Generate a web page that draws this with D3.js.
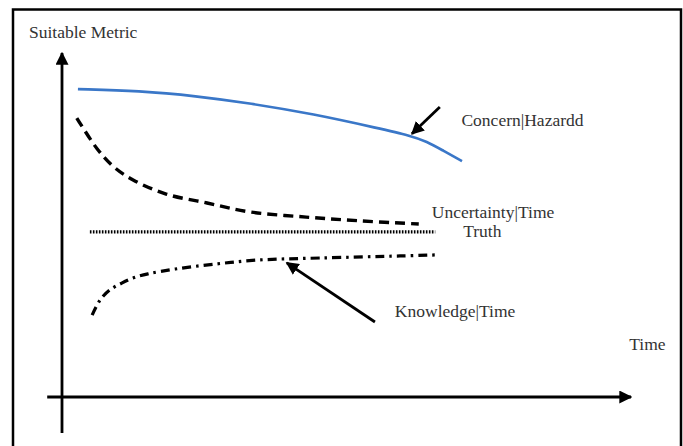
<!DOCTYPE html>
<html>
<head>
<meta charset="utf-8">
<script src="https://cdn.jsdelivr.net/npm/d3@7"></script>
<style>
  html, body { margin: 0; padding: 0; background: #fff; }
  text { font-family: "Liberation Serif", "Times New Roman", serif; fill: #333; }
</style>
</head>
<body>
<div id="chart"></div>
<script>
// ==========================
// Data (time units 0..10, metric units 0..10)
// ==========================
const concernT = [0.28, 1.37, 2.35, 3.30, 4.41, 5.59, 6.12, 6.41, 6.70, 7.03];
const concernM = [8.95, 8.90, 8.75, 8.54, 8.23, 7.80, 7.60, 7.43, 7.16, 6.86];

const uncertaintyT = [0.26, 0.62, 0.91, 1.25, 1.83, 2.55, 3.30, 4.29, 5.24, 6.27];
const uncertaintyM = [8.11, 7.21, 6.69, 6.31, 5.90, 5.64, 5.38, 5.23, 5.12, 5.03];

const truthT = [0.49, 6.56];
const truthM = [4.80, 4.80];

const knowledgeT = [0.53, 0.67, 0.84, 1.05, 1.25, 1.51, 1.99, 2.72, 3.43, 4.53, 5.94, 6.57];
const knowledgeM = [2.38, 2.82, 3.11, 3.31, 3.46, 3.58, 3.72, 3.87, 3.98, 4.04, 4.10, 4.13];

// annotation arrows: [fromT, fromM, toT, toM]
const pointerArrows = [
    [6.64, 8.43, 6.15, 7.65],
    [5.50, 2.18, 3.95, 3.90]
];

// labels: [text, t, m]
const labels = [
    ["Concern|Hazardd", 7.02, 7.89],
    ["Uncertainty|Time", 6.50, 5.20],
    ["Truth", 7.05, 4.65],
    ["Knowledge|Time", 5.85, 2.33],
    ["Time", 9.97, 1.37]
];

// ==========================
// SVG Canvas
// ==========================
const width = 683;
const height = 446;

const svg = d3.select("#chart")
    .append("svg")
    .attr("width", width)
    .attr("height", height);

const x = d3.scaleLinear().domain([0, 10]).range([62, 631]);
const y = d3.scaleLinear().domain([0, 10]).range([397, 53]);

// frame (no bottom edge)
svg.append("path")
    .attr("d", "M13,446 L13,9.5 L681,9.5 L681,446")
    .attr("fill", "none")
    .attr("stroke", "#000")
    .attr("stroke-width", 2.5);

// arrow head marker
const defs = svg.append("defs");
defs.append("marker")
    .attr("id", "head")
    .attr("viewBox", "0 0 10 10")
    .attr("refX", 9)
    .attr("refY", 5)
    .attr("markerWidth", 13)
    .attr("markerHeight", 13)
    .attr("markerUnits", "userSpaceOnUse")
    .attr("orient", "auto")
    .append("path")
    .attr("d", "M0,0 L10,5 L0,10 Z")
    .attr("fill", "#000");

// axes
svg.append("line")
    .attr("x1", x(0)).attr("y1", y(-1.05))
    .attr("x2", x(0)).attr("y2", y(10))
    .attr("stroke", "#000")
    .attr("stroke-width", 2.8)
    .attr("marker-end", "url(#head)");

svg.append("line")
    .attr("x1", x(-0.26)).attr("y1", y(0))
    .attr("x2", x(10)).attr("y2", y(0))
    .attr("stroke", "#000")
    .attr("stroke-width", 2.8)
    .attr("marker-end", "url(#head)");

// ==========================
// Curves
// ==========================
function makeLine(curve) {
    return d3.line()
        .x(d => x(d[0]))
        .y(d => y(d[1]))
        .curve(curve);
}
const smoothLine = makeLine(d3.curveBasis);
const throughLine = makeLine(d3.curveCatmullRom.alpha(0.5));

function drawSeries(ts, ms, gen, stroke, widthPx, dash) {
    svg.append("path")
        .datum(ts.map((t, i) => [t, ms[i]]))
        .attr("d", gen)
        .attr("fill", "none")
        .attr("stroke", stroke)
        .attr("stroke-width", widthPx)
        .attr("stroke-dasharray", dash);
}

drawSeries(concernT, concernM, smoothLine, "#3a77c8", 2.6, null);
drawSeries(uncertaintyT, uncertaintyM, throughLine, "#000", 3.4, "10,6");
drawSeries(truthT, truthM, throughLine, "#000", 3.2, "1.6,1.4");
drawSeries(knowledgeT, knowledgeM, throughLine, "#000", 3.2, "9,5,2.5,5");

// pointer arrows
svg.selectAll(".pointer")
    .data(pointerArrows)
    .enter()
    .append("line")
    .attr("class", "pointer")
    .attr("x1", d => x(d[0])).attr("y1", d => y(d[1]))
    .attr("x2", d => x(d[2])).attr("y2", d => y(d[3]))
    .attr("stroke", "#000")
    .attr("stroke-width", 2.8)
    .attr("marker-end", "url(#head)");

// ==========================
// Labels
// ==========================
svg.append("text")
    .attr("x", 29)
    .attr("y", 38)
    .attr("font-size", 17.5)
    .text("Suitable Metric");

svg.selectAll(".label")
    .data(labels)
    .enter()
    .append("text")
    .attr("class", "label")
    .attr("x", d => x(d[1]))
    .attr("y", d => y(d[2]))
    .attr("font-size", 17.5)
    .text(d => d[0]);
</script>
</body>
</html>
